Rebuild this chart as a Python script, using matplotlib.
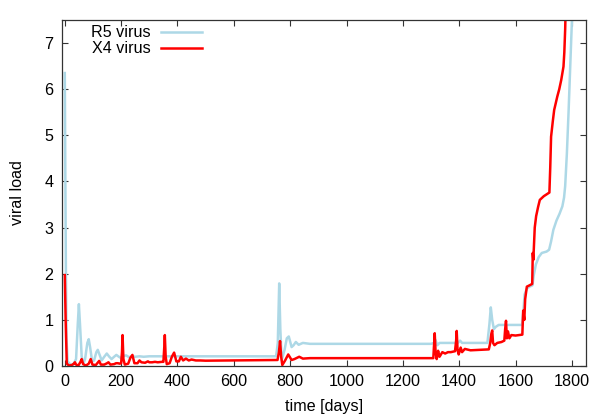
import matplotlib
matplotlib.use('Agg')
import matplotlib.pyplot as plt

plt.rcParams['font.family'] = ['Liberation Sans', 'DejaVu Sans']

# R5 virus (light blue): (day, viral load)
r5 = [(0, 6.35), (2, 4.0), (4, 2.0), (6, 0.6), (10, 0.1), (20, 0.03), (30, 0.03),
      (40, 0.15), (46, 0.9), (50, 1.34), (54, 0.9), (60, 0.2), (66, 0.05), (72, 0.15),
      (80, 0.5), (85, 0.58), (90, 0.4), (97, 0.1), (104, 0.12), (112, 0.3), (117, 0.35),
      (123, 0.25), (131, 0.12), (140, 0.2), (149, 0.27), (158, 0.2), (166, 0.15),
      (175, 0.2), (183, 0.24), (192, 0.2), (200, 0.17), (210, 0.22), (218, 0.23),
      (228, 0.19), (238, 0.21), (250, 0.2), (265, 0.21), (280, 0.2), (300, 0.21),
      (750, 0.21), (756, 0.5), (761, 1.79), (765, 0.8), (770, 0.13), (780, 0.35),
      (788, 0.6), (795, 0.64), (805, 0.41), (812, 0.45), (820, 0.52), (830, 0.46),
      (845, 0.5), (870, 0.48), (1300, 0.48), (1310, 0.5), (1316, 0.56), (1322, 0.45),
      (1330, 0.5), (1395, 0.5), (1403, 0.55), (1410, 0.5), (1500, 0.5), (1507, 0.9),
      (1512, 1.27), (1517, 1.0), (1523, 0.8), (1530, 0.85), (1540, 0.89), (1600, 0.89),
      (1623, 0.89), (1628, 1.2), (1632, 1.55), (1640, 1.68), (1650, 1.72), (1660, 1.75),
      (1664, 1.95), (1672, 2.2), (1682, 2.36), (1693, 2.45), (1710, 2.48), (1719, 2.52),
      (1726, 2.7), (1734, 2.95), (1745, 3.15), (1756, 3.3), (1766, 3.46), (1772, 3.65),
      (1776, 3.9), (1782, 4.6), (1788, 5.5), (1794, 6.5), (1800, 7.5), (1803, 8.0)]

# X4 virus (red): (day, viral load)
x4 = [(0, 1.97), (3, 1.0), (7, 0.05), (15, 0.01), (25, 0.02), (32, 0.05), (36, 0.08),
      (40, 0.03), (48, 0.01), (55, 0.08), (60, 0.15), (65, 0.04), (75, 0.01), (85, 0.05),
      (92, 0.15), (98, 0.03), (110, 0.02), (118, 0.08), (122, 0.11), (128, 0.03),
      (140, 0.03), (150, 0.06), (155, 0.08), (162, 0.03), (175, 0.04), (182, 0.06),
      (188, 0.06), (195, 0.05), (200, 0.06), (203, 0.3), (205, 0.67), (208, 0.15),
      (213, 0.03), (225, 0.05), (233, 0.18), (240, 0.24), (247, 0.06), (258, 0.06),
      (265, 0.12), (272, 0.08), (285, 0.07), (295, 0.1), (300, 0.08), (310, 0.08),
      (320, 0.09), (330, 0.08), (345, 0.09), (350, 0.09), (353, 0.4), (355, 0.67),
      (358, 0.2), (362, 0.04), (372, 0.06), (380, 0.2), (388, 0.29), (396, 0.1),
      (405, 0.1), (412, 0.2), (420, 0.12), (430, 0.16), (440, 0.12), (450, 0.14),
      (465, 0.12), (480, 0.12), (500, 0.115), (600, 0.12), (755, 0.13), (760, 0.3),
      (764, 0.54), (768, 0.2), (772, 0.02), (782, 0.12), (793, 0.25), (805, 0.13),
      (815, 0.15), (832, 0.2), (845, 0.16), (870, 0.17), (1308, 0.17), (1311, 0.5),
      (1313, 0.71), (1316, 0.3), (1320, 0.15), (1325, 0.33), (1330, 0.2), (1340, 0.3),
      (1350, 0.27), (1360, 0.3), (1370, 0.3), (1385, 0.32), (1389, 0.55), (1391, 0.76),
      (1394, 0.35), (1398, 0.25), (1405, 0.4), (1410, 0.3), (1420, 0.37), (1440, 0.34),
      (1470, 0.35), (1505, 0.36), (1510, 0.5), (1514, 0.7), (1517, 0.77), (1520, 0.5),
      (1525, 0.45), (1535, 0.5), (1550, 0.52), (1560, 0.55), (1563, 0.8), (1566, 0.98),
      (1569, 0.6), (1573, 0.75), (1578, 0.6), (1585, 0.67), (1600, 0.66), (1624, 0.68),
      (1627, 1.2), (1631, 1.0), (1634, 1.45), (1640, 1.72), (1650, 1.75), (1659, 1.78),
      (1661, 2.45), (1663, 2.3), (1665, 2.6), (1668, 3.0), (1673, 3.25), (1680, 3.45),
      (1686, 3.6), (1700, 3.68), (1710, 3.72), (1720, 3.76), (1723, 4.3), (1726, 4.97),
      (1732, 5.3), (1737, 5.55), (1748, 5.84), (1755, 6.0), (1762, 6.2), (1770, 6.49),
      (1773, 6.8), (1776, 7.3), (1778, 7.8)]

t_r5 = [p[0] for p in r5]
v_r5 = [p[1] for p in r5]
t_x4 = [p[0] for p in x4]
v_x4 = [p[1] for p in x4]

x_ticks = list(range(0, 1801, 200))
y_ticks = list(range(0, 8))

fs = 11.6
fig = plt.figure(figsize=(6, 4.2), dpi=100)
ax = fig.add_axes([0.1033, 0.1286, 0.8734, 0.8238])

ax.plot(t_r5, v_r5, color='#add8e6', lw=1.8, label='R5 virus')
ax.plot(t_x4, v_x4, color='#ff0000', lw=1.8, label='X4 virus')

ax.set_xlim(-10, 1850)
ax.set_ylim(0, 7.5)
ax.set_xticks(x_ticks)
ax.set_yticks(y_ticks)
ax.tick_params(direction='in', top=True, right=True, length=4, width=0.8,
               labelsize=fs, color='#333333', pad=6)
for s in ax.spines.values():
    s.set_color('#333333')
    s.set_linewidth(0.9)

ax.set_xlabel('time [days]', fontsize=fs, labelpad=7)
ax.set_ylabel('viral load', fontsize=fs, labelpad=14)

ax.legend(loc='upper left', bbox_to_anchor=(0.055, 0.985), frameon=False, markerfirst=False,
          fontsize=fs, handlelength=2.55, handletextpad=0.68, labelspacing=0.06,
          borderpad=0, borderaxespad=0)

fig.savefig('out.png', dpi=100)
